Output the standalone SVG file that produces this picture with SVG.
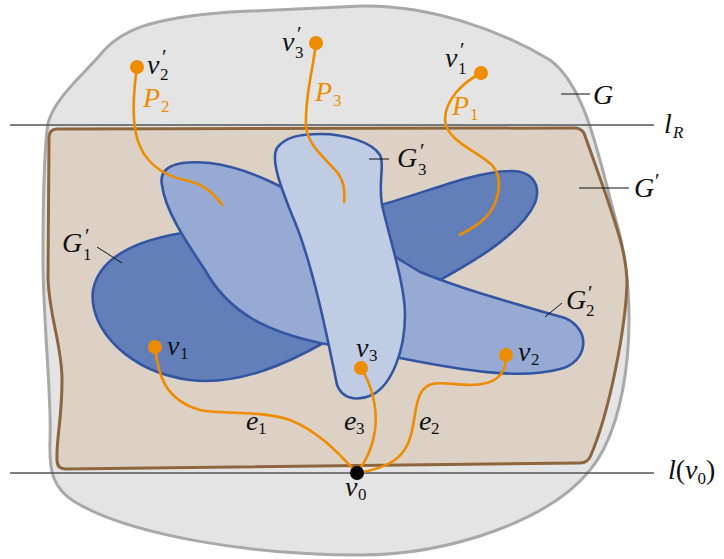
<svg xmlns="http://www.w3.org/2000/svg" width="724" height="559" viewBox="0 0 724 559">
<style>
.m{font-family:"Liberation Serif","DejaVu Serif",serif;font-style:italic;font-size:28px;fill:#111}
.s{font-style:normal;font-size:17px}
.si{font-style:italic;font-size:17px}
.p{font-style:normal;font-size:21px}
.u{font-style:normal}
.or{fill:#ee8c00}
.blob{stroke:#3355a2;stroke-width:2.6;stroke-linejoin:round}
.path{fill:none;stroke:#ee8c00;stroke-width:2.6;stroke-linecap:butt}
.dot{fill:#ee8c00}
.tick{stroke:#111;stroke-width:1}
.ln{stroke:#555;stroke-width:1.4}
</style>
<g id="G">
<path d="M48,123 C55,98 80,78 100,55 C120,30 150,18 230,12 L362,6 C430,5 500,30 550,60 C588,88 600,165 618,228 C638,300 632,420 590,470 C550,520 450,555 360,555 C250,555 130,535 75,502 C52,488 49,470 50,440 C52,400 43,320 43,260 C43,200 44,150 48,123 Z" fill="#e4e4e4" stroke="#a9a9a9" stroke-width="3"/>
<line class="tick" x1="561" y1="94" x2="590" y2="94"/>
<text class="m" x="593" y="104">G</text>
</g>
<g id="Gp">
<path d="M57,129 Q49,129 49,138 L48,280 C50,320 62,345 62,380 C62,420 56,440 57,460 Q57,469 66,469 L580,463 Q588,463 591,455 C610,410 625,330 627,285 C627,252 614,220 606,195 L584,133 Q581,128 574,128 Z" fill="#ddd1c5" stroke="#8d6640" stroke-width="3"/>
<line class="tick" x1="579" y1="188" x2="629" y2="188"/>
<text class="m" x="634" y="197">G<tspan class="p" x="655" y="188">′</tspan></text>
</g>
<g id="G1p">
<path class="blob" fill="#637fb9" d="M182,233 C140,240 100,255 93,290 C88,330 130,372 190,380 C240,386 290,362 325,342 L440,280 C480,258 522,232 535,203 C542,183 530,170 510,171 C470,172 420,195 380,205 Z"/>
<line class="tick" x1="97" y1="247" x2="122" y2="263"/>
<text class="m" x="62" y="252">G<tspan class="p" x="85" y="243">′</tspan><tspan class="s" x="83" y="260">1</tspan></text>
</g>
<g id="G2p">
<path class="blob" fill="#96aad3" d="M162,185 C158,165 180,160 210,163 C250,168 290,190 310,205 L420,272 C470,292 520,305 565,318 C592,330 588,362 560,369 C520,380 460,370 400,358 L320,343 C270,332 230,315 205,270 C185,240 165,210 162,185 Z"/>
<line class="tick" x1="545" y1="317" x2="562" y2="303"/>
<text class="m" x="566" y="309">G<tspan class="p" x="588" y="300">′</tspan><tspan class="s" x="586" y="316">2</tspan></text>
</g>
<g id="G3p">
<path class="blob" fill="#c0cce4" d="M320,134 C345,134 372,142 380,155 C385,165 378,180 382,205 C390,240 405,285 405,315 C405,350 392,385 372,395 C355,402 342,398 337,385 C328,340 312,260 292,215 C282,190 270,160 277,148 C285,137 300,134 320,134 Z"/>
<line class="tick" x1="369" y1="159" x2="389" y2="159"/>
<text class="m" x="397" y="167">G<tspan class="p" x="420" y="158">′</tspan><tspan class="s" x="418" y="175">3</tspan></text>
</g>
<g id="lines">
<line class="ln" x1="10" y1="125" x2="654" y2="125"/>
<line class="ln" x1="10" y1="473" x2="654" y2="473"/>
<text class="m" x="664" y="133">l<tspan class="si" x="673" y="138">R</tspan></text>
<text class="m" x="668" y="479">l<tspan class="u">(</tspan>v<tspan class="s" dy="5">0</tspan><tspan class="u" dy="-5">)</tspan></text>
</g>
<g id="connectors">
<path id="P2" class="path" d="M137,67 C133,95 132,120 137,138 C143,160 160,175 185,180 C205,184 215,195 223,206"/>
<path id="P3" class="path" d="M316,43 C313,70 305,95 306,125 C307,145 325,158 337,172 C345,182 345,195 344,203"/>
<path id="P1" class="path" d="M481,73 C462,83 445,100 445,120 C446,140 475,150 492,165 C505,180 498,205 485,218 C475,228 465,232 459,235"/>
<path id="e1" class="path" d="M155,347 C158,375 165,400 200,410 C225,415 260,410 290,420 C320,432 340,455 357,473"/>
<path id="e3" class="path" d="M361,368 C372,385 378,410 375,430 C372,450 365,462 357,473"/>
<path id="e2" class="path" d="M506,355 C507,375 495,385 470,385 C445,385 425,375 418,400 C412,420 415,445 395,460 C385,467 370,471 357,473"/>
<text class="m or" x="143" y="107">P<tspan class="s" x="161" y="112">2</tspan></text>
<text class="m or" x="315" y="101">P<tspan class="s" x="333" y="106">3</tspan></text>
<text class="m or" x="452" y="115">P<tspan class="s" x="470" y="120">1</tspan></text>
<text class="m" x="246" y="430">e<tspan class="s" x="258" y="434">1</tspan></text>
<text class="m" x="344" y="430">e<tspan class="s" x="356" y="434">3</tspan></text>
<text class="m" x="419" y="430">e<tspan class="s" x="431" y="434">2</tspan></text>
</g>
<g id="v2p"><circle class="dot" cx="137" cy="67" r="7"/><text class="m" x="147" y="74">v<tspan class="p" x="162" y="64">′</tspan><tspan class="s" x="160" y="80">2</tspan></text></g>
<g id="v3p"><circle class="dot" cx="316" cy="43" r="7"/><text class="m" x="282" y="51">v<tspan class="p" x="297" y="41">′</tspan><tspan class="s" x="295" y="58">3</tspan></text></g>
<g id="v1p"><circle class="dot" cx="481" cy="73" r="7"/><text class="m" x="445" y="67">v<tspan class="p" x="460" y="57">′</tspan><tspan class="s" x="458" y="74">1</tspan></text></g>
<g id="v1"><circle class="dot" cx="155" cy="347" r="7"/><text class="m" x="167" y="355">v<tspan class="s" x="180" y="359">1</tspan></text></g>
<g id="v3"><circle class="dot" cx="361" cy="368" r="7"/><text class="m" x="356" y="357">v<tspan class="s" x="369" y="361">3</tspan></text></g>
<g id="v2"><circle class="dot" cx="506" cy="355" r="7"/><text class="m" x="518" y="361">v<tspan class="s" x="531" y="365">2</tspan></text></g>
<g id="v0"><circle cx="357" cy="473" r="7" fill="#000"/><text class="m" x="345" y="496">v<tspan class="s" x="358" y="500">0</tspan></text></g>
</svg>
